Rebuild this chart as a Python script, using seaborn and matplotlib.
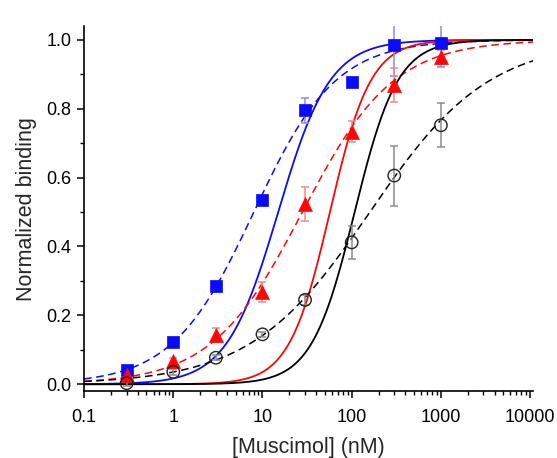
import numpy as np
import pandas as pd
import matplotlib
matplotlib.use("Agg")
import matplotlib.pyplot as plt
import seaborn as sns
from matplotlib.ticker import LogLocator, FixedLocator, NullFormatter, FuncFormatter, MultipleLocator

# ---- data ----
conc = [0.3, 1, 3, 10, 30, 100, 300, 1000]

blue_y = [0.040, 0.122, 0.285, 0.536, 0.796, 0.879, 0.985, 0.990]
blue_err = [0.008, 0.008, 0.008, 0.008, 0.036, 0.008, 0.090, 0.068]

red_y = [0.028, 0.067, 0.142, 0.268, 0.524, 0.733, 0.869, 0.951]
red_err = [0.008, 0.008, 0.020, 0.030, 0.050, 0.030, 0.050, 0.020]

black_y = [0.003, 0.036, 0.077, 0.145, 0.245, 0.412, 0.606, 0.752]
black_err = [0.008, 0.008, 0.008, 0.008, 0.015, 0.047, 0.087, 0.064]

# Hill-fit parameters of the drawn curves (EC50 in nM, Hill slope)
curve_names = ["blue", "red", "black"]
solid_ec50 = [15, 57, 108]
solid_nh = [1.5, 1.9, 1.8]
dashed_ec50 = [8, 28, 160]
dashed_nh = [0.95, 0.85, 0.65]

xticks = [0.1, 1, 10, 100, 1000, 10000]
xtick_labels = ["0.1", "1", "10", "100", "1000", "10000"]
yticks = [0.0, 0.2, 0.4, 0.6, 0.8, 1.0]

colors = {"blue": "#0a0aff", "red": "#ff0505", "black": "#000000"}
err_colors = {"blue": "#8a8ae8", "red": "#f08a8a", "black": "#8c8c8c"}

sns.set_theme(style="ticks")
plt.rcParams["font.family"] = ["Liberation Sans", "DejaVu Sans"]

fig = plt.figure(figsize=(5.57, 4.58), dpi=100)
ax = fig.add_axes([0.151, 0.146, 0.806, 0.797])

xs = np.logspace(-1, np.log10(10800), 500)
rows = []
for name, e, n in zip(curve_names, solid_ec50, solid_nh):
    for x in xs:
        rows.append({"x": x, "y": (x / e) ** n / (1 + (x / e) ** n), "series": name, "kind": "solid"})
for name, e, n in zip(curve_names, dashed_ec50, dashed_nh):
    for x in xs:
        rows.append({"x": x, "y": (x / e) ** n / (1 + (x / e) ** n), "series": name, "kind": "dashed"})
curves = pd.DataFrame(rows)

for name in curve_names:
    sub = curves[(curves.series == name) & (curves.kind == "solid")]
    sns.lineplot(data=sub, x="x", y="y", ax=ax, color=colors[name], lw=1.3, zorder=2)
    sub = curves[(curves.series == name) & (curves.kind == "dashed")]
    sns.lineplot(data=sub, x="x", y="y", ax=ax, color=colors[name], lw=1.1,
                 zorder=2).lines[-1].set_dashes((5, 3))

pts = pd.DataFrame({
    "x": conc * 3,
    "y": blue_y + red_y + black_y,
    "err": blue_err + red_err + black_err,
    "series": ["blue"] * 8 + ["red"] * 8 + ["black"] * 8,
})

for name, ys, es in [("blue", blue_y, blue_err), ("red", red_y, red_err), ("black", black_y, black_err)]:
    ax.errorbar(conc, ys, yerr=es, fmt="none", ecolor=err_colors[name], elinewidth=1.1,
                capsize=3, capthick=1.1, zorder=3)

sub = pts[pts.series == "blue"]
sns.scatterplot(data=sub, x="x", y="y", ax=ax, marker="s", s=70, color=colors["blue"],
                edgecolor=colors["blue"], linewidth=0.5, zorder=4)
sub = pts[pts.series == "red"]
sns.scatterplot(data=sub, x="x", y="y", ax=ax, marker="^", s=100, color=colors["red"],
                edgecolor=colors["red"], linewidth=0.5, zorder=4)
sub = pts[pts.series == "black"]
sns.scatterplot(data=sub, x="x", y="y", ax=ax, marker="o", s=80, facecolor="none",
                edgecolor="#222222", linewidth=1.0, zorder=4)

ax.set_xscale("log")
ax.set_xlim(0.1, 10800)
ax.set_ylim(-0.02, 1.04)
ax.xaxis.set_major_locator(FixedLocator(xticks))
ax.xaxis.set_major_formatter(FuncFormatter(lambda v, p: xtick_labels[xticks.index(v)] if v in xticks else ""))
ax.xaxis.set_minor_locator(LogLocator(base=10, subs=np.arange(2, 10), numticks=20))
ax.xaxis.set_minor_formatter(NullFormatter())
ax.yaxis.set_major_locator(FixedLocator(yticks))
ax.yaxis.set_major_formatter(FuncFormatter(lambda v, p: f"{v:.1f}"))
ax.yaxis.set_minor_locator(MultipleLocator(0.1))

for s in ["top", "right"]:
    ax.spines[s].set_visible(False)
for s in ["left", "bottom"]:
    ax.spines[s].set_linewidth(1.2)
    ax.spines[s].set_color("black")

ax.tick_params(axis="both", which="major", direction="out", length=5, width=1.1,
               labelsize=13, colors="black", pad=4)
ax.tick_params(axis="x", which="major", pad=8)
ax.tick_params(axis="both", which="minor", direction="out", length=3, width=1.0, colors="black")

ax.set_xlabel("[Muscimol] (nM)", fontsize=15.5, labelpad=8)
ax.set_ylabel("Normalized binding", fontsize=15.5, labelpad=7)

fig.savefig("out.png", dpi=100)
